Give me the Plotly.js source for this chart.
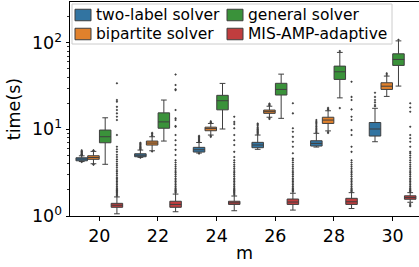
<!DOCTYPE html>
<html>
<head>
<meta charset="utf-8">
<script src="https://cdn.plot.ly/plotly-3.0.1.min.js"></script>
<style>html,body{margin:0;padding:0;background:#fff;}#chart{width:419px;height:267px;}</style>
</head>
<body>
<div id="chart"></div>
<script>
// categories (m)
const mValues = [20, 22, 24, 26, 28, 30];
const seriesNames = ["two-label solver", "bipartite solver", "general solver", "MIS-AMP-adaptive"];
const seriesColors = ["#3274a1", "#e1812c", "#3a923a", "#c03d3e"];

// box statistics (seconds), one value per m
const twoLabelQ1     = [4.34, 4.83, 5.47, 6.14, 6.42, 8.37];
const twoLabelMedian = [4.54, 5.03, 5.82, 6.60, 6.88, 10.1];
const twoLabelQ3     = [4.70, 5.23, 6.20, 7.08, 7.39, 12.0];
const twoLabelLow    = [4.25, 4.75, 5.33, 5.88, 6.25, 7.2];
const twoLabelHigh   = [4.95, 5.77, 7.05, 8.6, 9.0, 17.5];

const bipartiteQ1     = [4.51, 6.59, 9.64, 15.3, 11.7, 28.9];
const bipartiteMedian = [4.73, 6.95, 10.2, 16.0, 12.8, 31.5];
const bipartiteQ3     = [4.96, 7.33, 10.6, 16.7, 13.8, 34.5];
const bipartiteLow    = [4.01, 5.66, 8.6, 13.8, 9.6, 24.0];
const bipartiteHigh   = [5.57, 8.22, 11.7, 18.5, 16.4, 41.2];

const generalQ1     = [7.0, 10.3, 16.8, 24.9, 37.7, 54.7];
const generalMedian = [8.22, 12.2, 21.4, 28.9, 46.2, 64.1];
const generalQ3     = [9.82, 15.5, 24.7, 34.0, 53.7, 74.5];
const generalLow    = [3.95, 7.33, 10.1, 13.4, 23.1, 31.6];
const generalHigh   = [13.6, 21.8, 33.9, 43.4, 77.3, 105];

const misQ1     = [1.26, 1.26, 1.36, 1.36, 1.36, 1.56];
const misMedian = [1.33, 1.36, 1.42, 1.45, 1.46, 1.63];
const misQ3     = [1.40, 1.48, 1.48, 1.57, 1.60, 1.71];
const misLow    = [1.06, 1.12, 1.15, 1.17, 1.22, 1.44];
const misHigh   = [1.66, 1.79, 1.70, 1.83, 1.86, 1.86];

// outliers (fliers), one list per m
const twoLabelOut = [
  [5.0, 5.05, 5.1, 5.15, 5.2, 5.3, 5.4, 5.5, 5.6, 5.75, 4.2],
  [5.85, 5.95, 6.05, 6.15, 6.25, 6.4, 6.55, 6.7, 6.85, 7.0, 4.7],
  [7.15, 7.3, 7.45, 7.6, 7.8, 8.0, 8.2, 8.4, 5.25],
  [8.8, 9.0, 9.2, 9.4, 9.6, 9.8, 10.0, 10.3, 10.6, 11.0, 11.4, 11.7],
  [9.2, 9.5, 9.8, 10.1, 10.4, 10.8, 11.2, 11.6, 12.0, 12.4, 12.8],
  [18.5, 19.1, 20.5, 21.8, 23.7, 26.5]
];
const bipartiteOut = [
  [5.65, 5.75, 3.95, 3.9],
  [8.4, 8.6, 8.9, 9.1, 5.55],
  [11.9, 12.1, 12.4, 8.4, 8.2],
  [18.9, 19.3, 19.8, 13.5, 13.2],
  [16.8, 17.2, 17.7, 9.3, 9.1],
  [42.5, 44.3]
];
const generalOut = [
  [],
  [],
  [],
  [],
  [80, 17.6],
  [108]
];
const misOut = [
  [1.7, 1.75, 1.8, 1.85, 1.9, 1.95, 2.0, 2.05, 2.1, 2.2, 2.3, 2.4, 2.5, 2.6, 2.7, 2.8, 2.95, 3.1, 3.25, 3.4, 3.6, 3.8, 4.0, 4.25, 4.5, 4.8, 5.1, 5.5, 5.9, 6.3,
   8.6, 12.8, 14.0, 15.3, 16.7, 18.2, 20.8, 21.8, 34.0],
  [1.85, 1.9, 1.95, 2.0, 2.05, 2.1, 2.2, 2.3, 2.4, 2.5, 2.6, 2.7, 2.85, 3.0, 3.15, 3.3, 3.5, 3.7, 3.9, 4.15, 4.4,
   5.05, 5.8, 6.6, 7.5, 8.6, 10.7, 10.9, 12.8, 13.4, 16.7, 28.4, 29.0, 32.5, 43.0],
  [1.75, 1.8, 1.85, 1.9, 1.95, 2.0, 2.05, 2.1, 2.2, 2.3, 2.4, 2.5, 2.6, 2.7, 2.85, 3.0, 3.15, 3.3, 3.5, 3.7, 3.9, 4.15, 4.4,
   4.8, 5.5, 6.6, 7.5, 8.6, 10.3, 11.5, 12.2, 14.0],
  [1.9, 1.95, 2.0, 2.05, 2.1, 2.2, 2.3, 2.4, 2.5, 2.6, 2.7, 2.85, 3.0, 3.15, 3.3, 3.5, 3.7, 3.9, 4.15, 4.4, 4.6,
   5.3, 6.3, 7.2, 8.2, 9.4, 10.3, 15.3, 20.0],
  [1.9, 1.95, 2.0, 2.05, 2.1, 2.2, 2.3, 2.4, 2.5, 2.6, 2.7, 2.85, 3.0, 3.15, 3.3, 3.5, 3.7, 3.9, 4.15, 4.4,
   5.5, 6.3, 8.6, 9.8, 12.8, 14.0, 17.0, 21.8, 23.7, 35.5],
  [1.38, 1.33, 1.3,
   1.9, 1.95, 2.0, 2.05, 2.1, 2.2, 2.3, 2.4, 2.5, 2.6, 2.7, 2.85, 3.0, 3.15, 3.3, 3.5, 3.7, 3.9, 4.15, 4.4, 4.7, 5.0, 5.3,
   5.5, 6.3, 7.2, 7.9, 8.6, 10.7, 16.0, 17.9, 20.0]
];

// y tick labels
const yTickVals = [1, 10, 100];
const yTickText = ["10<sup>0</sup>", "10<sup>1</sup>", "10<sup>2</sup>"];

const stats = [
  [twoLabelQ1, twoLabelMedian, twoLabelQ3, twoLabelLow, twoLabelHigh, twoLabelOut],
  [bipartiteQ1, bipartiteMedian, bipartiteQ3, bipartiteLow, bipartiteHigh, bipartiteOut],
  [generalQ1, generalMedian, generalQ3, generalLow, generalHigh, generalOut],
  [misQ1, misMedian, misQ3, misLow, misHigh, misOut]
];

// seaborn-like hue dodging: category step is 2 in m units, 4 hues share 0.8 of it
const catStep = 2;
const nHue = seriesNames.length;
const hueWidth = 0.8 * catStep / nHue;
const lineCol = "#3f3f3f";
const font = "DejaVu Sans";
const axisFont = 17.5, legendFont = 15.5;

const traces = [];
stats.forEach((s, i) => {
  const off = (i - (nHue - 1) / 2) * hueWidth;
  const xs = mValues.map(m => m + off);
  traces.push({
    type: "box",
    name: seriesNames[i],
    showlegend: false,
    x: xs,
    q1: s[0], median: s[1], q3: s[2], lowerfence: s[3], upperfence: s[4],
    width: hueWidth * 0.98,
    whiskerwidth: 0.5,
    boxpoints: false,
    fillcolor: seriesColors[i],
    line: {color: lineCol, width: 1},
    hoverinfo: "skip"
  });
  const ox = [], oy = [];
  s[5].forEach((list, j) => list.forEach(v => { ox.push(xs[j]); oy.push(v); }));
  traces.push({
    type: "scatter", mode: "markers", x: ox, y: oy, showlegend: false,
    marker: {symbol: "diamond", size: 2, color: lineCol, line: {width: 0}},
    hoverinfo: "skip"
  });
});

// ---- layout geometry (pixels) ----
const W = 419, H = 267;
const M = {l: 70, r: 0, t: 2, b: 51};
const PW = W - M.l - M.r, PH = H - M.t - M.b;
const px2x = p => (p - M.l) / PW;          // paper x from pixel
const py2y = p => 1 - (p - M.t) / PH;      // paper y from pixel

// legend drawn in matplotlib style: 2 columns, column-major order
const legBox = {x0: 72, x1: 392, y0: 4, y1: 44};
const legCols = [75, 227];      // swatch left edge per column
const legRows = [15, 34];       // row centre
const swW = 16, swH = 11.5, txtGap = 3;

const shapes = [{
  type: "rect", xref: "paper", yref: "paper", layer: "above",
  x0: px2x(legBox.x0), x1: px2x(legBox.x1), y0: py2y(legBox.y1), y1: py2y(legBox.y0),
  fillcolor: "rgba(255,255,255,0.8)", line: {color: "#cccccc", width: 1}
}];
const annotations = [];
seriesNames.forEach((name, i) => {
  const col = Math.floor(i / 2), row = i % 2;
  const sx = legCols[col], cy = legRows[row];
  shapes.push({
    type: "rect", xref: "paper", yref: "paper", layer: "above",
    x0: px2x(sx), x1: px2x(sx + swW), y0: py2y(cy + swH / 2), y1: py2y(cy - swH / 2),
    fillcolor: seriesColors[i], line: {color: lineCol, width: 1}
  });
  annotations.push({
    xref: "paper", yref: "paper", x: px2x(sx + swW + txtGap), y: py2y(cy),
    xanchor: "left", yanchor: "middle", showarrow: false,
    text: name, font: {family: font, size: legendFont, color: "#000"}
  });
});

const layout = {
  width: W, height: H,
  margin: {l: M.l, r: M.r, t: M.t, b: M.b, pad: 0},
  paper_bgcolor: "#fff", plot_bgcolor: "#fff",
  font: {family: font, color: "#000", size: axisFont},
  boxmode: "overlay",
  showlegend: false,
  shapes: shapes,
  annotations: annotations,
  xaxis: {
    range: [19, 30.9],
    tickmode: "array", tickvals: mValues,
    ticks: "outside", ticklen: 3.5, tickwidth: 1, tickcolor: "#000",
    showline: true, linecolor: "#000", linewidth: 1, mirror: true,
    showgrid: false, zeroline: false,
    tickfont: {family: font, size: axisFont},
    title: {text: "m", font: {family: font, size: axisFont}, standoff: 2}
  },
  yaxis: {
    type: "log", range: [0, 2.47],
    tickmode: "array", tickvals: yTickVals, ticktext: yTickText,
    ticks: "outside", ticklen: 3.5, tickwidth: 1, tickcolor: "#000",
    minor: {ticks: "outside", ticklen: 2, tickwidth: 0.8, tickcolor: "#000", dtick: "D1", showgrid: false},
    showline: true, linecolor: "#000", linewidth: 1,
    showgrid: false, zeroline: false,
    tickfont: {family: font, size: axisFont},
    title: {text: "time(s)", font: {family: font, size: axisFont}, standoff: 6}
  }
};

Plotly.newPlot("chart", traces, layout, {displayModeBar: false, staticPlot: true});
</script>
</body>
</html>
